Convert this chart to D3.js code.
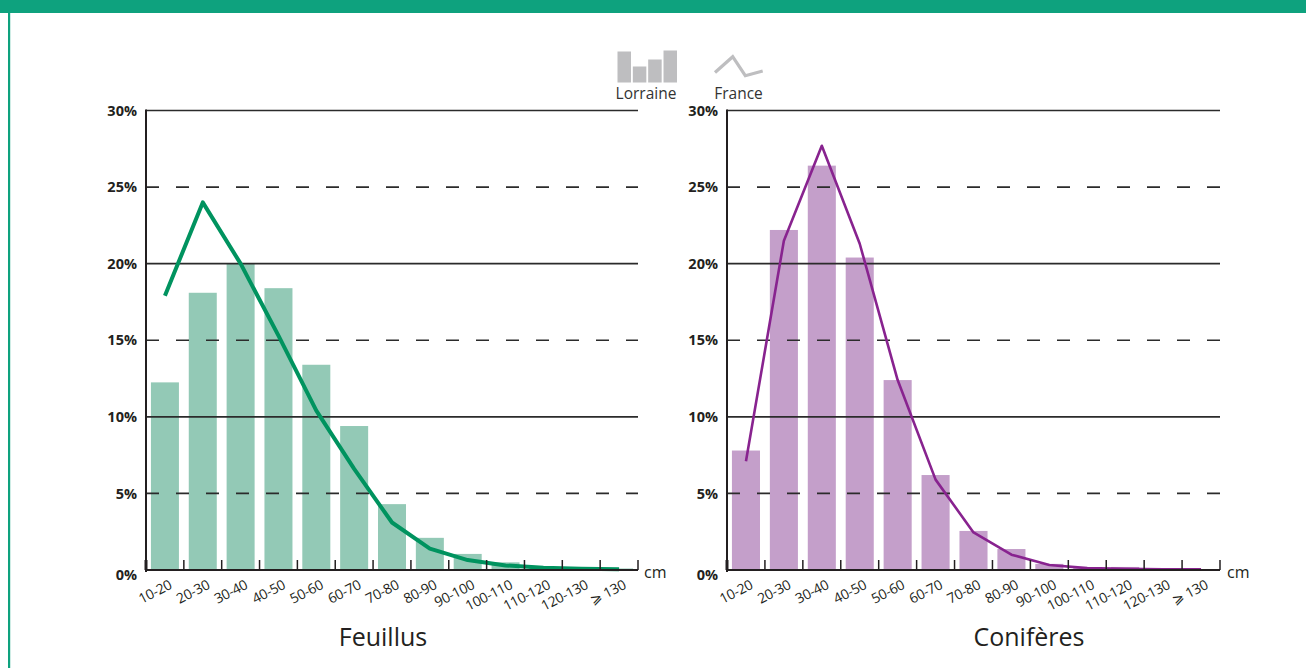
<!DOCTYPE html>
<html>
<head>
<meta charset="utf-8">
<script src="https://cdn.jsdelivr.net/npm/d3@7"></script>
<style>
  html, body { margin: 0; padding: 0; background: #fff; }
  svg { display: block; font-family: "Open Sans", "Noto Sans", sans-serif; }
</style>
</head>
<body>
<svg id="chart" width="1306" height="668"></svg>
<script>
// ---- data ----
const categories = ["10-20", "20-30", "30-40", "40-50", "50-60", "60-70", "70-80", "80-90", "90-100", "100-110", "110-120", "120-130", "\u2A7E 130"];
const feuillusLorraine = [12.25, 18.1, 20.0, 18.4, 13.4, 9.4, 4.3, 2.1, 1.05, 0.5, 0.2, 0.1, 0.1];
const feuillusFrance   = [17.9, 24.0, 20.0, 15.3, 10.4, 6.6, 3.1, 1.4, 0.65, 0.3, 0.15, 0.08, 0.05];
const coniferesLorraine = [7.8, 22.2, 26.4, 20.4, 12.4, 6.2, 2.55, 1.37, 0.4, 0.13, 0.2, 0.05, 0.03];
const coniferesFrance   = [7.1, 21.5, 27.7, 21.3, 12.4, 5.9, 2.45, 1.0, 0.33, 0.12, 0.08, 0.05, 0.05];
const yTicks = [0, 5, 10, 15, 20, 25, 30];
const yTickLabels = ["0%", "5%", "10%", "15%", "20%", "25%", "30%"];
const panelTitles = ["Feuillus", "Conifères"];
const legendLabels = ["Lorraine", "France"];
const unitLabel = "cm";

const svg = d3.select("#chart");
const ink = "#231f20";

// frame: banner + left border
svg.append("rect").attr("x", 0).attr("y", 0).attr("width", 1306).attr("height", 13).attr("fill", "#0ea27e");
svg.append("rect").attr("x", 8).attr("y", 13).attr("width", 2.2).attr("height", 655).attr("fill", "#0ea27e");

const yTop = 110.5, yBot = 570;
const y = d3.scaleLinear().domain([0, 30]).range([yBot, yTop]);

const panels = [
  { x0: 146, x1: 638, bars: feuillusLorraine, line: feuillusFrance, barColor: "#93c9b6", lineColor: "#00935f", lineWidth: 4, title: panelTitles[0], titleX: 383, cmX: 644 },
  { x0: 727, x1: 1220, bars: coniferesLorraine, line: coniferesFrance, barColor: "#c49fca", lineColor: "#88238f", lineWidth: 2.6, title: panelTitles[1], titleX: 1029, cmX: 1227 }
];

panels.forEach(p => {
  const g = svg.append("g");
  const x = d3.scaleBand().domain(categories).range([p.x0, p.x1]).paddingInner(0).paddingOuter(0);
  const bw = x.bandwidth() * 0.74;

  // bars
  g.selectAll("rect.bar").data(categories).join("rect")
    .attr("class", "bar")
    .attr("x", (c) => x(c) + (x.bandwidth() - bw) / 2)
    .attr("width", bw)
    .attr("y", (c, i) => y(p.bars[i]))
    .attr("height", (c, i) => y(0) - y(p.bars[i]))
    .attr("fill", p.barColor);

  // gridlines (over bars)
  yTicks.filter(t => t > 0).forEach(t => {
    g.append("line")
      .attr("x1", p.x0).attr("x2", p.x1)
      .attr("y1", y(t)).attr("y2", y(t))
      .attr("stroke", "#2b2b2b")
      .attr("stroke-width", 1.6)
      .attr("stroke-dasharray", t % 10 === 0 ? null : "13,17");
  });

  // y axis
  const yAxis = d3.axisLeft(y).tickValues(yTicks).tickSize(0).tickPadding(9)
    .tickFormat((d, i) => yTickLabels[i]);
  const ya = g.append("g").attr("transform", `translate(${p.x0},0)`).call(yAxis);
  ya.select(".domain").remove();
  ya.selectAll("text").attr("font-size", 14.5).attr("font-weight", "bold").attr("fill", ink)
    .attr("font-family", "'Open Sans', sans-serif").attr("dy", "0.32em");
  ya.selectAll("text").filter(d => d === 0).attr("dy", "0.62em");

  g.append("line").attr("x1", p.x0).attr("x2", p.x0).attr("y1", yTop - 1).attr("y2", yBot + 2)
    .attr("stroke", ink).attr("stroke-width", 2);

  // line (France)
  const lineGen = d3.line()
    .x((d, i) => x(categories[i]) + x.bandwidth() / 2)
    .y(d => y(d));
  g.append("path").datum(p.line)
    .attr("d", lineGen)
    .attr("fill", "none")
    .attr("stroke", p.lineColor)
    .attr("stroke-width", p.lineWidth)
    .attr("stroke-linejoin", "round")
    .attr("stroke-linecap", "butt");

  // x axis baseline and ticks at category boundaries
  g.append("line").attr("x1", p.x0).attr("x2", p.x1).attr("y1", yBot).attr("y2", yBot)
    .attr("stroke", ink).attr("stroke-width", 2);
  const bounds = categories.map(c => x(c)).concat([p.x1]);
  g.selectAll("line.tk").data(bounds.slice(1)).join("line")
    .attr("class", "tk")
    .attr("x1", d => d).attr("x2", d => d)
    .attr("y1", yBot).attr("y2", yBot - 10)
    .attr("stroke", ink).attr("stroke-width", 1.5);
  g.append("line").attr("x1", p.x0).attr("x2", p.x0).attr("y1", yBot).attr("y2", yBot - 10)
    .attr("stroke", ink).attr("stroke-width", 3);

  // x labels rotated
  g.selectAll("text.xl").data(categories).join("text")
    .attr("class", "xl")
    .attr("transform", c => `translate(${x(c) + x.bandwidth() / 2 + 8},${yBot + 18}) rotate(-27)`)
    .attr("text-anchor", "end")
    .attr("font-size", 14)
    .attr("letter-spacing", -0.3)
    .attr("fill", ink)
    .text(c => c);

  // cm
  g.append("text").attr("x", p.cmX).attr("y", yBot + 8).attr("font-size", 16).attr("fill", ink).text(unitLabel);

  // title
  g.append("text").attr("x", p.titleX).attr("y", 646).attr("text-anchor", "middle")
    .attr("font-size", 25).attr("fill", ink).text(p.title);
});

// legend
const lg = svg.append("g");
const legendBars = [31, 16, 23, 32];
const lx = d3.scaleBand().domain(d3.range(legendBars.length)).range([617.5, 677]).paddingInner(0.12);
lg.selectAll("rect").data(legendBars).join("rect")
  .attr("x", (d, i) => lx(i)).attr("width", lx.bandwidth())
  .attr("y", d => 82.5 - d).attr("height", d => d)
  .attr("fill", "#bebec0");
const legendLine = [[715, 72.5], [732.7, 56.7], [745.3, 75.7], [762.7, 71]];
lg.append("path").attr("d", d3.line()(legendLine)).attr("fill", "none")
  .attr("stroke", "#bebec0").attr("stroke-width", 3.2);
lg.append("text").attr("x", 646).attr("y", 99).attr("text-anchor", "middle").attr("font-size", 15.5).attr("fill", "#333").text(legendLabels[0]);
lg.append("text").attr("x", 738.5).attr("y", 99).attr("text-anchor", "middle").attr("font-size", 15.5).attr("fill", "#333").text(legendLabels[1]);
</script>
</body>
</html>
